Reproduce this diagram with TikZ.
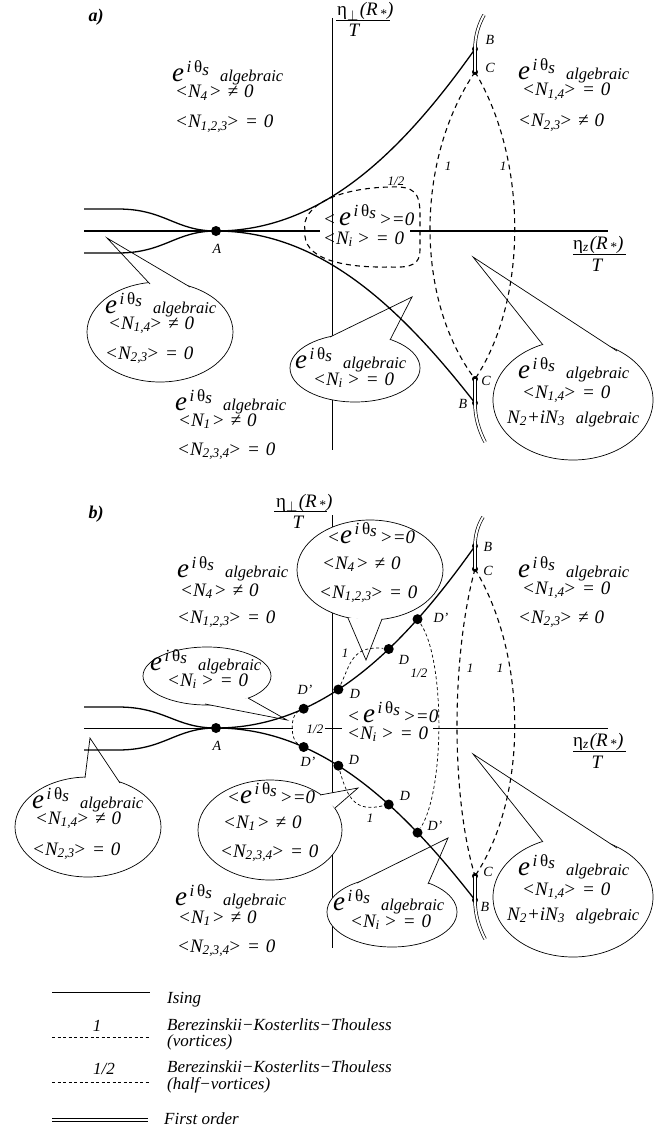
\documentclass[tikz,border=0pt]{standalone}
\usepackage{fontspec}
\setmainfont{Liberation Serif}
\usetikzlibrary{shapes.geometric}
\newcommand{\ee}{{\fontsize{27}{27}\selectfont e}\hspace{2.5pt}\raisebox{9pt}{\fontsize{17}{17}\selectfont i\,\upshape θ\itshape\raisebox{-2.5pt}{s}}}
\newcommand{\alg}{\hspace{11pt}{\fontsize{16.5}{16.5}\selectfont algebraic}}
\newcommand{\sbs}[1]{\textsubscript{#1}\hspace{-1.5pt}}
\newcommand{\sbo}[1]{\textsubscript{#1}\hspace{1pt}}
\newcommand{\gp}{\hspace{6pt}}
\tikzset{
  ising/.style={line width=1.3pt},
  isingthin/.style={line width=0.9pt},
  vaxis/.style={line width=0.8pt},
  haxis/.style={line width=1.6pt},
  haxisb/.style={line width=0.8pt},
  bkt/.style={line width=1.1pt, dash pattern=on 5pt off 4pt},
  bktthin/.style={line width=0.7pt, dash pattern=on 3pt off 2.5pt},
  fo/.style={double, double distance=2pt, line width=0.7pt},
  bigdot/.style={circle, fill, inner sep=0pt, minimum size=10pt},
  smalldot/.style={circle, fill, inner sep=0pt, minimum size=6pt},
  lbl/.style={font=\fontsize{14}{14}\selectfont\itshape, inner sep=0pt},
  num/.style={font=\fontsize{13}{13}\selectfont\itshape, inner sep=0pt},
  tx/.style={font=\fontsize{19}{19}\selectfont\itshape, inner sep=0pt, anchor=base west},
  lg/.style={font=\fontsize{17}{17}\selectfont\itshape, inner sep=0pt, anchor=base west},
  axl/.style={font=\fontsize{19}{19}\selectfont, inner sep=0pt, anchor=base west},
  panel/.style={font=\fontsize{18}{18}\selectfont\bfseries\itshape, inner sep=0pt},
  bub/.style={ellipse, draw, fill=white, line width=0.7pt, inner sep=0pt},
  bubline/.style={line width=0.7pt}
}
% name, cx, cy, rx, ry, tip, base1, base2
\newcommand{\callout}[8]{%
  \node[bub, minimum width=2*#4, minimum height=2*#5] (#1) at (#2,#3) {};
  \fill[white] #6 -- #7 -- #8 -- cycle;
  \draw[bubline] #7 -- #6 -- #8;
}
\begin{document}
\begin{tikzpicture}[x=1pt,y=-1pt]
\useasboundingbox (0,0) rectangle (663,1129);
\fill[white] (0,0) rectangle (663,1129);

%================ PANEL a ================
\node[panel] (pa) at (96,17) {a)};
\coordinate (vaT) at (332,18); \coordinate (vaB) at (332,450);
\draw[vaxis] (vaT) -- (vaB);
\coordinate (haL) at (84,231); \coordinate (haM1) at (320,231);
\coordinate (haM2) at (410,231); \coordinate (haR) at (608,231);
\draw[haxis] (haL) -- (haM1);
\draw[haxis] (haM2) -- (haR);
\node[axl] (etaPa) at (337,16) {η\textsubscript{$\perp$}\hspace{1pt}\textit{(R\textsubscript{\,*})}};
\coordinate (fba1) at (336,20); \coordinate (fba2) at (390,20);
\draw[line width=0.7pt] (fba1) -- (fba2);
\node[tx, anchor=base] (Ta) at (354,37) {T};
\node[axl] (etaZa) at (573,249) {η\textsubscript{\textit{z}}\hspace{1pt}\textit{(R\textsubscript{\,*})}};
\coordinate (fbz1) at (573,254); \coordinate (fbz2) at (626,254);
\draw[line width=0.7pt] (fbz1) -- (fbz2);
\node[tx, anchor=base] (Tza) at (597,271) {T};

% bubbles a
\callout{bA1}{160}{332}{73}{50}{(107,238)}{(150,284)}{(190,287)}
\callout{bA2}{355}{368}{65}{34}{(412,297)}{(330,337)}{(390,340)}
\callout{bA3}{573}{400}{80}{60}{(473,257)}{(543,345)}{(617,351)}

% Ising curves a
\coordinate (Aa) at (216,231);
\node[smalldot] (Bau) at (475,49) {};
\node[smalldot] (Cau) at (475,72) {};
\node[smalldot] (Cal) at (475,379) {};
\node[smalldot] (Bal) at (475,403) {};
\draw[ising] (84,209) -- (118,209) .. controls (165,209) and (175,231) .. (Aa);
\draw[ising] (84,253) -- (118,253) .. controls (165,253) and (175,231) .. (Aa);
\draw[ising] (Aa) .. controls (320,231) and (400,155) .. (Bau.center);
\draw[ising] (Aa) .. controls (320,231) and (400,307) .. (Bal.center);
\node[bigdot] (A1) at (Aa) {};
\node[lbl] (A1l) at (217,249) {A};
\node[lbl] at (490,40) {B};
\node[lbl] at (490,68) {C};
\node[lbl] at (486,381) {C};
\node[lbl] at (463,404) {B};
% first order a
\draw[fo] (Bau.center) -- (Cau.center);
\draw[fo] (Bau.center) .. controls (475,35) and (479,24) .. (484,15);
\draw[fo] (Cal.center) -- (Bal.center);
\draw[fo] (Bal.center) .. controls (475,418) and (479,430) .. (485,442);
% BKT a
\draw[bkt] (Cau.center) .. controls (415,160) and (415,300) .. (Cal.center);
\draw[bkt] (Cau.center) .. controls (528,160) and (528,300) .. (Cal.center);
\node[num] at (448,166) {1};
\node[num] at (503,166) {1};
\draw[bkt] (305,231) .. controls (300,205) and (340,188) .. (390,187) .. controls (414,186) and (420,192) .. (420,215) -- (420,250) .. controls (420,264) and (412,268) .. (390,267) .. controls (340,268) and (302,258) .. cycle;
\node[num] at (396,181) {1/2};

% texts a
\node[tx] at (172,82) {\ee\alg};
\node[tx] at (175,98) {<N\sbo{4}>\gp≠\gp0};
\node[tx] at (175,128) {<N\sbs{1,2,3}>\gp=\gp0};
\node[tx] at (518,80) {\ee\alg};
\node[tx] at (522,96) {<N\sbs{1,4}>\gp=\gp0};
\node[tx] at (518,127) {<N\sbs{2,3}>\gp≠\gp0};
\node[tx] at (105,313) {\ee\alg};
\node[tx] at (108,329) {<N\sbs{1,4}>\gp≠\gp0};
\node[tx] at (105,359) {<N\sbs{2,3}>\gp=\gp0};
\node[tx] at (175,410) {\ee\alg};
\node[tx] at (178,426) {<N\sbo{1}>\gp≠\gp0};
\node[tx] at (177,455) {<N\sbs{2,3,4}>\gp=\gp0};
\node[tx] at (295,368) {\ee\alg};
\node[tx] at (313,385) {<N\sbo{i}\,>\gp=\gp0};
\node[tx] at (323,225) {<\,\ee\,>=0};
\node[tx] at (323,244) {<N\sbo{i}\,>\gp=\gp0};
\node[tx] at (518,378) {\ee\alg};
\node[tx] at (522,398) {<N\sbs{1,4}>\gp=\gp0};
\node[tx] at (507,423) {N\textsubscript{2}+iN\textsubscript{3}\alg};

%================ PANEL b ================
\node[panel] (pb) at (96,514) {b)};
\coordinate (vbT) at (332,515); \coordinate (vbB) at (332,948);
\draw[vaxis] (vbT) -- (vbB);
\coordinate (hbL) at (84,728); \coordinate (hbM1) at (293,728);
\coordinate (hbM2) at (325,728); \coordinate (hbM3) at (342,728);
\coordinate (hbM4) at (433,728); \coordinate (hbR) at (608,728);
\draw[haxisb] (hbL) -- (hbM1);
\draw[haxisb] (hbM2) -- (hbM3);
\draw[haxisb] (hbM4) -- (hbR);
\node[axl] (etaPb) at (276,507) {η\textsubscript{$\perp$}\hspace{1pt}\textit{(R\textsubscript{\,*})}};
\coordinate (fbb1) at (274,511); \coordinate (fbb2) at (327,511);
\draw[line width=0.7pt] (fbb1) -- (fbb2);
\node[tx, anchor=base] (Tb) at (298,528) {T};
\node[axl] (etaZb) at (573,746) {η\textsubscript{\textit{z}}\hspace{1pt}\textit{(R\textsubscript{\,*})}};
\coordinate (fbzb1) at (573,751); \coordinate (fbzb2) at (626,751);
\draw[line width=0.7pt] (fbzb1) -- (fbzb2);
\node[tx, anchor=base] (Tzb) at (597,768) {T};

% bubbles b
\callout{bB1}{88}{827}{73}{50}{(90,738)}{(85,778)}{(120,783)}
\callout{bB2}{207}{676}{64}{29}{(287,720)}{(205,704)}{(248,698)}
\callout{bB3}{370}{570}{73}{50}{(366,660)}{(348,618)}{(382,619)}
\callout{bB4}{270}{830}{72}{50}{(358,788)}{(320,795)}{(335,808)}
\callout{bB5}{392}{912}{65}{35}{(448,838)}{(357,883)}{(428,884)}
\callout{bB6}{573}{897}{80}{60}{(473,754)}{(543,842)}{(617,848)}

% Ising curves b
\coordinate (Ab) at (216,728);
\node[smalldot] (Bbu) at (475,546) {};
\node[smalldot] (Cbu) at (475,569) {};
\node[smalldot] (Cbl) at (475,876) {};
\node[smalldot] (Bbl) at (475,900) {};
\draw[ising] (84,707) -- (118,707) .. controls (165,707) and (175,728) .. (Ab);
\draw[ising] (84,750) -- (118,750) .. controls (165,750) and (175,728) .. (Ab);
\draw[ising] (Ab) .. controls (320,728) and (400,652) .. (Bbu.center)
  node[bigdot, pos=0.30] (Dpu1) {}
  node[bigdot, pos=0.43] (Du1) {}
  node[bigdot, pos=0.63] (Du2) {}
  node[bigdot, pos=0.75] (Dpu2) {};
\draw[ising] (Ab) .. controls (320,728) and (400,804) .. (Bbl.center)
  node[bigdot, pos=0.30] (Dpl1) {}
  node[bigdot, pos=0.43] (Dl1) {}
  node[bigdot, pos=0.63] (Dl2) {}
  node[bigdot, pos=0.75] (Dpl2) {};
\node[bigdot] (A2) at (Ab) {};
\node[lbl] at (217,746) {A};
\node[lbl] at (305,690) {D'};
\node[lbl] at (355,694) {D};
\node[lbl] at (404,660) {D};
\node[lbl] at (441,618) {D'};
\node[lbl] at (308,762) {D'};
\node[lbl] at (354,760) {D};
\node[lbl] at (405,796) {D};
\node[lbl] at (435,826) {D'};
\node[lbl] at (488,547) {B};
\node[lbl] at (488,571) {C};
\node[lbl] at (488,872) {C};
\node[lbl] at (485,907) {B};
% first order b
\draw[fo] (Bbu.center) -- (Cbu.center);
\draw[fo] (Bbu.center) .. controls (475,535) and (478,525) .. (483,517);
\draw[fo] (Cbl.center) -- (Bbl.center);
\draw[fo] (Bbl.center) .. controls (475,915) and (479,927) .. (485,939);
% BKT b
\draw[bkt] (Cbu.center) .. controls (451,657) and (451,797) .. (Cbl.center);
\draw[bkt] (Cbu.center) .. controls (528,657) and (528,797) .. (Cbl.center);
\node[num] at (470,668) {1};
\node[num] at (500,668) {1};
\draw[bktthin] (Dpu2) .. controls (445,660) and (445,790) .. (Dpl2);
\node[num] at (419,673) {1/2};
\draw[bktthin] (Dpu1) .. controls (290,715) and (290,740) .. (Dpl1);
\node[num] at (315,729) {1/2};
\draw[bktthin] (Du1) .. controls (350,665) and (352,645) .. (Du2);
\node[num] at (345,653) {1};
\draw[bktthin] (Dl1) .. controls (348,800) and (356,812) .. (Dl2);
\node[num] at (370,818) {1};

% texts b
\node[tx] at (177,577) {\ee\alg};
\node[tx] at (180,596) {<N\sbo{4}>\gp≠\gp0};
\node[tx] at (177,623) {<N\sbs{1,2,3}>\gp=\gp0};
\node[tx] at (518,577) {\ee\alg};
\node[tx] at (522,594) {<N\sbs{1,4}>\gp=\gp0};
\node[tx] at (518,623) {<N\sbs{2,3}>\gp≠\gp0};
\node[tx] at (327,543) {<\ee\,>=0};
\node[tx] at (322,569) {<N\sbo{4}>\gp≠\gp0};
\node[tx] at (319,598) {<N\sbs{1,2,3}>\gp=\gp0};
\node[tx] at (150,670) {\ee\alg};
\node[tx] at (167,686) {<N\sbo{i}\,>\gp=\gp0};
\node[tx] at (347,722) {<\,\ee\,>=0};
\node[tx] at (347,739) {<N\sbo{i}\,>\gp=\gp0};
\node[tx] at (227,803) {<\ee\,>=0};
\node[tx] at (223,828) {<N\sbo{1}>\gp≠\gp0};
\node[tx] at (220,857) {<N\sbs{2,3,4}>\gp=\gp0};
\node[tx] at (333,910) {\ee\alg};
\node[tx] at (350,927) {<N\sbo{i}\,>\gp=\gp0};
\node[tx] at (175,905) {\ee\alg};
\node[tx] at (178,923) {<N\sbo{1}>\gp≠\gp0};
\node[tx] at (177,952) {<N\sbs{2,3,4}>\gp=\gp0};
\node[tx] at (518,875) {\ee\alg};
\node[tx] at (522,895) {<N\sbs{1,4}>\gp=\gp0};
\node[tx] at (507,920) {N\textsubscript{2}+iN\textsubscript{3}\alg};
\node[tx] at (32,808) {\ee\alg};
\node[tx] at (35,824) {<N\sbs{1,4}>\gp≠\gp0};
\node[tx] at (32,855) {<N\sbs{2,3}>\gp=\gp0};

%================ LEGEND ================
\coordinate (l1a) at (52,992); \coordinate (l1b) at (150,992);
\draw[isingthin] (l1a) -- (l1b);
\node[lg] at (167,1003) {Ising};
\coordinate (l2a) at (52,1037); \coordinate (l2b) at (150,1037);
\draw[bktthin] (l2a) -- (l2b);
\node[lg, anchor=base] at (97,1031) {1};
\node[lg] at (167,1030) {Berezinskii−Kosterlits−Thouless};
\node[lg] at (167,1046) {(vortices)};
\coordinate (l3a) at (52,1082); \coordinate (l3b) at (150,1082);
\draw[bktthin] (l3a) -- (l3b);
\node[lg, anchor=base] at (104,1074) {1/2};
\node[lg] at (167,1072) {Berezinskii−Kosterlits−Thouless};
\node[lg] at (167,1089) {(half−vortices)};
\coordinate (l4a) at (52,1120); \coordinate (l4b) at (148,1120);
\draw[fo] (l4a) -- (l4b);
\node[lg] at (164,1124) {First order};
\end{tikzpicture}
\end{document}
